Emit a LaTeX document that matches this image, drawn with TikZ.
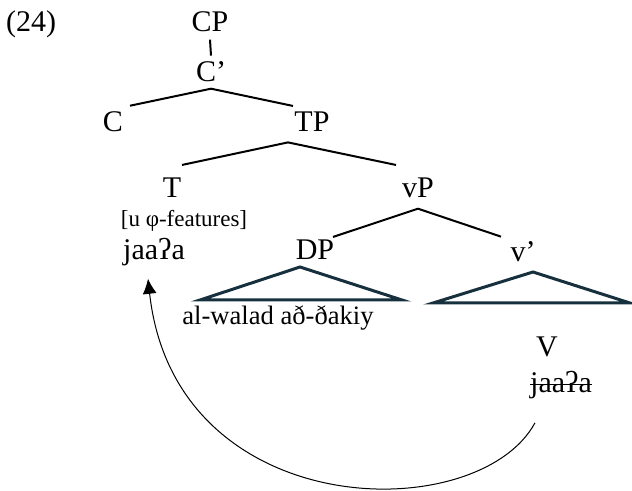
\documentclass[tikz,border=0pt]{standalone}
\usepackage{fontspec}
\setmainfont{Liberation Serif}
\usetikzlibrary{arrows.meta}
\definecolor{trinavy}{HTML}{17303D}
\begin{document}
\begin{tikzpicture}[x=0.5pt,y=-0.5pt,
 lbl/.style={anchor=base,inner sep=0pt,font=\fontsize{15}{17}\selectfont},
 small/.style={anchor=base,inner sep=0pt,font=\fontsize{11.5}{13}\selectfont},
 mid/.style={anchor=base,inner sep=0pt,font=\fontsize{13.3}{15}\selectfont},
 branch/.style={line width=1pt},
 tri/.style={line width=1.5pt,draw=trinavy,line join=miter},
 move/.style={line width=0.5pt,-{Latex[length=7.5pt,width=7pt]}}]
\useasboundingbox (0,0) rectangle (632,491);
\node[lbl] (ex) at (31,32) {(24)};
\node[lbl] (cp) at (210,32) {CP};
\node[lbl] (cbar) at (211,82) {C’};
\node[lbl] (c) at (113,132) {C};
\node[lbl] (tp) at (312,132) {TP};
\node[lbl] (t) at (172,198) {T};
\node[lbl] (vp) at (418,198) {vP};
\node[small] (feat) at (184,227) {[u φ-features]};
\node[lbl] (jaa) at (154,260) {jaaʔa};
\node[lbl] (dp) at (315,260) {DP};
\node[lbl] (vbar) at (523,262) {v’};
\node[mid] (walad) at (278,325) {al-walad að-ðakiy};
\node[lbl] (v) at (547,357) {V};
\node[lbl] (jv) at (561,393) {jaaʔa};
% branches
\draw[branch] ([yshift=-3.5pt]cp.south) -- ([yshift=3pt]cbar.north);
\draw[branch] ([yshift=-3pt]cbar.south) -- ([xshift=8.5pt,yshift=3pt]c.north);
\draw[branch] ([yshift=-3pt]cbar.south) -- ([xshift=-9.5pt,yshift=3pt]tp.north);
\draw[branch] ([xshift=-12pt,yshift=-5pt]tp.south) -- ([xshift=5pt,yshift=6.5pt]t.north);
\draw[branch] ([xshift=-12pt,yshift=-5pt]tp.south) -- ([xshift=-11pt,yshift=6.5pt]vp.north);
\draw[branch] ([yshift=-5pt]vp.south) -- ([xshift=9pt,yshift=1.5pt]dp.north);
\draw[branch] ([yshift=-5pt]vp.south) -- ([xshift=-11pt,yshift=2.5pt]vbar.north);
% triangles
\draw[tri] (300,267) -- (402,300) -- (200,300) -- cycle;
\draw[tri] (533,272) -- (630,303) -- (433,303) -- cycle;
% strike-through
\draw[line width=0.6pt] ([yshift=4.2pt]jv.base west) -- ([yshift=4.2pt]jv.base east);
% movement arrow
\draw[move] ([xshift=-13pt,yshift=-11.5pt]jv.south) .. controls (478,528) and (175,524) .. ([xshift=-3pt,yshift=-6pt]jaa.south);
\end{tikzpicture}
\end{document}
